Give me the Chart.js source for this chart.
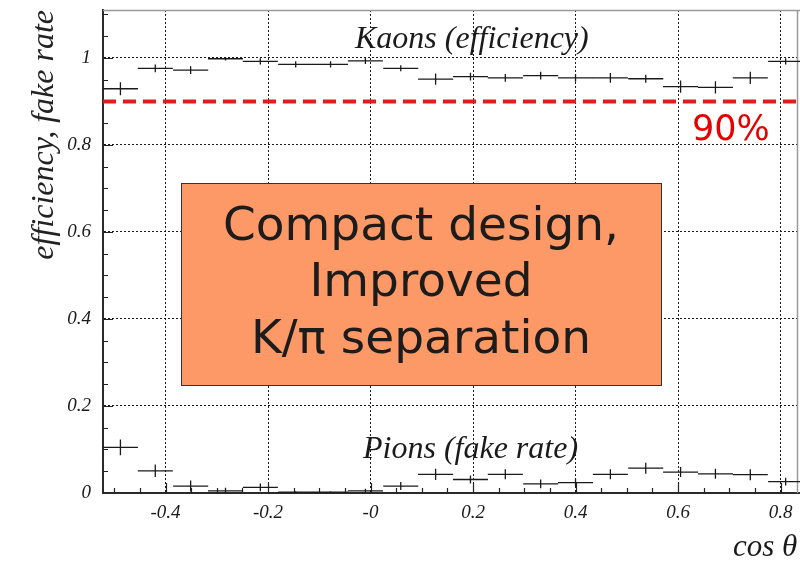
<!DOCTYPE html>
<html>
<head>
<meta charset="utf-8">
<script src="https://cdn.jsdelivr.net/npm/chart.js@4.4.1/dist/chart.umd.min.js"></script>
<style>
  html, body { margin: 0; padding: 0; background: #ffffff; }
  #wrap { width: 800px; height: 563px; position: relative; }
</style>
</head>
<body>
<div id="wrap"><canvas id="c" width="800" height="563"></canvas></div>
<script>
// Histogram bins in cos(theta)
const binCenters = [-0.488, -0.420, -0.351, -0.283, -0.215, -0.146, -0.078, -0.010, 0.059, 0.127,
                    0.195, 0.263, 0.332, 0.400, 0.468, 0.537, 0.605, 0.673, 0.741, 0.810];
const binHalfWidth = 0.0342;

// Kaon identification efficiency per bin, with statistical errors
const kaonEff = [0.929, 0.976, 0.972, 0.998, 0.992, 0.985, 0.985, 0.993, 0.976, 0.951,
                 0.957, 0.954, 0.959, 0.954, 0.954, 0.952, 0.934, 0.932, 0.954, 0.992];
const kaonErr = [0.015, 0.009, 0.009, 0.004, 0.007, 0.007, 0.007, 0.007, 0.007, 0.013,
                 0.009, 0.009, 0.009, 0.009, 0.011, 0.009, 0.014, 0.014, 0.014, 0.007];

// Pion fake rate per bin, with statistical errors
const pionFake = [0.105, 0.051, 0.016, 0.005, 0.013, 0.002, 0.002, 0.005, 0.016, 0.043,
                  0.031, 0.043, 0.021, 0.024, 0.043, 0.057, 0.048, 0.044, 0.042, 0.026];
const pionErr = [0.018, 0.0145, 0.0125, 0.007, 0.009, 0.002, 0.002, 0.005, 0.009, 0.013,
                 0.009, 0.0115, 0.010, 0.009, 0.0115, 0.0125, 0.0115, 0.0115, 0.0125, 0.009];

// Axis ticks
const xTickValues = [-0.4, -0.2, 0, 0.2, 0.4, 0.6, 0.8];
const xTickLabels = ['-0.4', '-0.2', '-0', '0.2', '0.4', '0.6', '0.8'];
const yTickValues = [0, 0.2, 0.4, 0.6, 0.8, 1];
const yTickLabels = ['0', '0.2', '0.4', '0.6', '0.8', '1'];

const xRange = [-0.522, 0.838];
const yRange = [0, 1.11];
const threshold = 0.9;

const serif = '"Liberation Serif", "Times New Roman", serif';
const sans = '"DejaVu Sans", "Noto Sans", sans-serif';

// Draws each bin as a cross: horizontal bar for the bin width, vertical bar for the error
const errorCrosses = {
  id: 'errorCrosses',
  afterDatasetsDraw(chart) {
    const { ctx, chartArea, scales: { x, y } } = chart;
    ctx.save();
    ctx.beginPath();
    ctx.rect(chartArea.left, chartArea.top, chartArea.right - chartArea.left, chartArea.bottom - chartArea.top);
    ctx.clip();
    ctx.strokeStyle = '#1a1a1a';
    ctx.lineWidth = 1.3;
    chart.data.datasets.forEach(ds => {
      if (!ds.errors) return;
      ds.data.forEach((p, i) => {
        const px = x.getPixelForValue(p.x);
        const py = y.getPixelForValue(p.y);
        const xl = x.getPixelForValue(p.x - binHalfWidth);
        const xr = x.getPixelForValue(p.x + binHalfWidth);
        const yt = y.getPixelForValue(p.y + ds.errors[i]);
        const yb = y.getPixelForValue(p.y - ds.errors[i]);
        ctx.beginPath();
        ctx.moveTo(xl, py); ctx.lineTo(xr, py);
        ctx.moveTo(px, yt); ctx.lineTo(px, yb);
        ctx.stroke();
      });
    });
    ctx.restore();
  }
};

// Frame details: top edge, right edge and small inner tick marks
const frameTicks = {
  id: 'frameTicks',
  beforeDatasetsDraw(chart) {
    const { ctx, chartArea, scales: { x, y } } = chart;
    ctx.save();
    ctx.strokeStyle = '#9a9a9a';
    ctx.lineWidth = 1.5;
    ctx.beginPath();
    ctx.moveTo(chartArea.left, chartArea.top + 0.5);
    ctx.lineTo(chartArea.right, chartArea.top + 0.5);
    ctx.moveTo(797.5, chartArea.top);
    ctx.lineTo(797.5, chartArea.bottom);
    ctx.stroke();

    ctx.strokeStyle = '#222';
    ctx.lineWidth = 1.2;
    ctx.beginPath();
    for (let k = 1; k <= 22; k++) {
      const v = k * 0.05;
      const py = Math.round(y.getPixelForValue(v)) + 0.5;
      const len = (k % 4 === 0) ? 10 : 5;
      ctx.moveTo(chartArea.left, py);
      ctx.lineTo(chartArea.left + len, py);
    }
    for (let k = -10; k <= 16; k++) {
      const v = k * 0.05;
      const px = Math.round(x.getPixelForValue(v)) + 0.5;
      if (px <= chartArea.left + 1 || px >= chartArea.right) continue;
      const len = (k % 4 === 0) ? 10 : 5;
      ctx.moveTo(px, chartArea.bottom);
      ctx.lineTo(px, chartArea.bottom - len);
    }
    ctx.stroke();
    ctx.restore();
  }
};

// Series labels, threshold label, axis title and the highlight box
const annotations = {
  id: 'annotations',
  afterDraw(chart) {
    const { ctx } = chart;
    ctx.save();
    ctx.fillStyle = '#1a1a1a';
    ctx.textBaseline = 'alphabetic';
    ctx.textAlign = 'left';
    ctx.font = 'italic 32px ' + serif;
    ctx.fillText('Kaons (efficiency)', 355, 48);
    ctx.fillText('Pions (fake rate)', 363, 458);

    ctx.font = 'italic 31px ' + serif;
    ctx.fillText('cos \u03b8', 733, 556);

    ctx.fillStyle = '#e60000';
    ctx.font = '35px ' + sans;
    ctx.fillText('90%', 692, 140);

    // Highlight box
    ctx.fillStyle = '#fd9966';
    ctx.fillRect(181, 183, 481, 203);
    ctx.strokeStyle = '#333';
    ctx.lineWidth = 1;
    ctx.strokeRect(181.5, 183.5, 480, 202);
    ctx.fillStyle = '#1c1c1c';
    ctx.textAlign = 'center';
    ctx.textBaseline = 'middle';
    ctx.font = '47px ' + sans;
    ctx.fillText('Compact design,', 421, 228);
    ctx.fillText('Improved', 421, 284);
    ctx.fillText('K/\u03c0 separation', 421, 341);
    ctx.restore();
  }
};

new Chart(document.getElementById('c'), {
  type: 'scatter',
  data: {
    datasets: [
      {
        label: 'Kaons (efficiency)',
        data: binCenters.map((x, i) => ({ x, y: kaonEff[i] })),
        errors: kaonErr,
        pointRadius: 0,
        showLine: false
      },
      {
        label: 'Pions (fake rate)',
        data: binCenters.map((x, i) => ({ x, y: pionFake[i] })),
        errors: pionErr,
        pointRadius: 0,
        showLine: false
      },
      {
        label: '90%',
        type: 'line',
        data: [{ x: xRange[0], y: threshold }, { x: xRange[1], y: threshold }],
        borderColor: '#e21b1b',
        borderWidth: 4,
        borderDash: [13, 7],
        pointRadius: 0,
        fill: false
      }
    ]
  },
  options: {
    responsive: false,
    animation: false,
    devicePixelRatio: 1,
    layout: { padding: { top: 10, right: 0, left: 0, bottom: 0 } },
    plugins: { legend: { display: false }, tooltip: { enabled: false } },
    scales: {
      x: {
        type: 'linear',
        min: xRange[0],
        max: xRange[1],
        afterBuildTicks: s => { s.ticks = xTickValues.map(v => ({ value: v })); },
        afterFit: s => { s.height = 70; s.paddingLeft = 0; s.paddingRight = 0; },
        ticks: {
          autoSkip: false,
          maxRotation: 0,
          padding: 9,
          color: '#1a1a1a',
          font: { family: serif, style: 'italic', size: 19 },
          callback: (v, i) => xTickLabels[i]
        },
        grid: { color: '#1a1a1a', lineWidth: 1, drawTicks: false },
        border: { display: true, color: '#2a2a2a', width: 2, dash: [2, 2] }
      },
      y: {
        type: 'linear',
        min: yRange[0],
        max: yRange[1],
        afterBuildTicks: s => { s.ticks = yTickValues.map(v => ({ value: v })); },
        afterFit: s => { s.width = 103; s.paddingTop = 0; s.paddingBottom = 0; },
        ticks: {
          padding: 12,
          color: '#1a1a1a',
          font: { family: serif, style: 'italic', size: 19 },
          callback: (v, i) => yTickLabels[i]
        },
        grid: { color: '#1a1a1a', lineWidth: 1, drawTicks: false },
        border: { display: true, color: '#2a2a2a', width: 2, dash: [2, 2] },
        title: {
          display: true,
          text: 'efficiency, fake rate',
          align: 'end',
          color: '#222',
          padding: { top: 25, bottom: 0 },
          font: { family: serif, style: 'italic', size: 32 }
        }
      }
    }
  },
  plugins: [frameTicks, errorCrosses, annotations]
});
</script>
</body>
</html>
